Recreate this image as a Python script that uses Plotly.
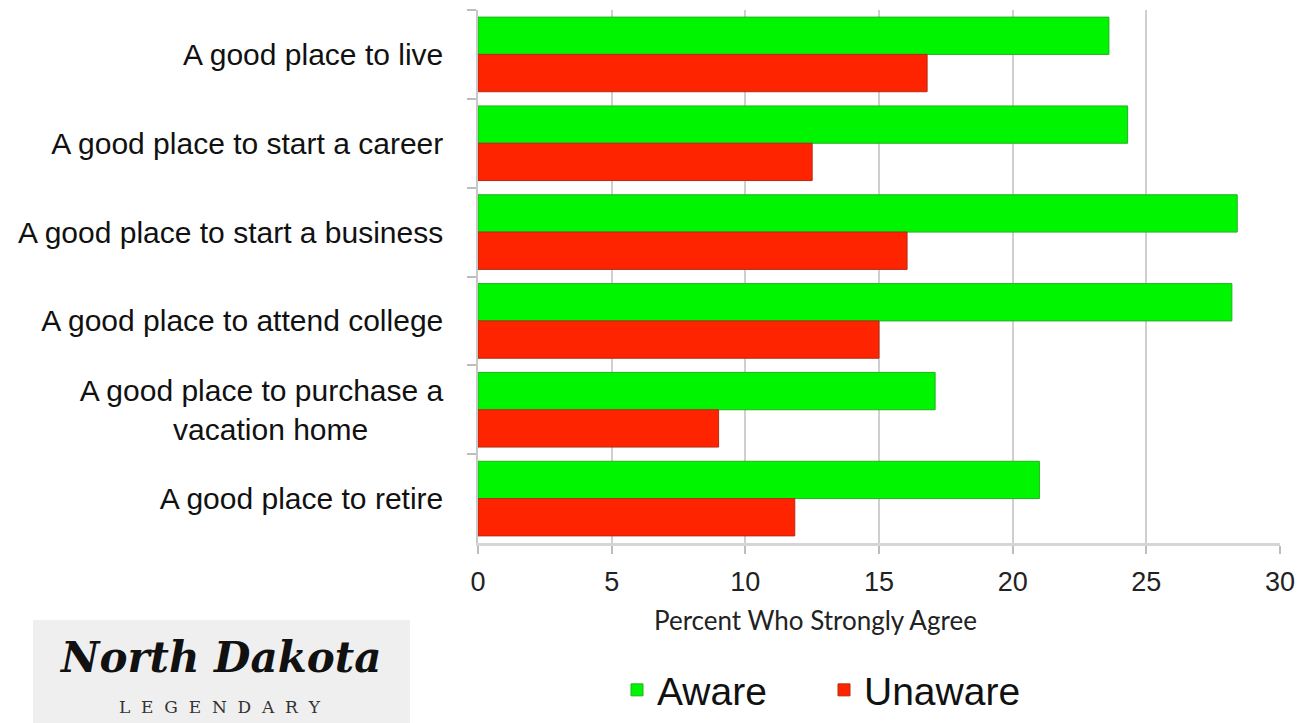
import plotly.graph_objects as go

categories = [
    "A good place to live",
    "A good place to start a career",
    "A good place to start a business",
    "A good place to attend college",
    "A good place to purchase a<br>vacation home" + "\u00a0" * 9,
    "A good place to retire",
]
aware = [23.6, 24.3, 28.4, 28.2, 17.1, 21.0]
unaware = [16.8, 12.5, 16.05, 15.0, 9.0, 11.85]
x_ticks = [0, 5, 10, 15, 20, 25, 30]
series_names = ["Aware", "Unaware"]

SANS = "Liberation Sans, Arial, sans-serif"

# page has an 8px body margin; target plot area in screen pixels: x 478..1280, y 10..543
OFF = 8
L, R, T, B = 478, 1280, 10, 543


def px_x(p):
    return (p - L) / (R - L)


def px_y(p):
    return (B - p) / (B - T)


fig = go.Figure()
fig.add_trace(go.Bar(
    y=categories, x=aware, name=series_names[0], orientation="h",
    marker=dict(color="#00f500", line=dict(color="#1fb21f", width=1)),
))
fig.add_trace(go.Bar(
    y=categories, x=unaware, name=series_names[1], orientation="h",
    marker=dict(color="#ff2400", line=dict(color="#b52a14", width=1)),
))

fig.update_layout(
    width=1306, height=723,
    margin=dict(l=L - OFF, r=1306 - (R - OFF), t=T - OFF, b=723 - (B - OFF)),
    paper_bgcolor="white", plot_bgcolor="white",
    barmode="group", bargap=0.16, bargroupgap=0.0,
    showlegend=True,
    legend=dict(
        orientation="h", x=px_x(617), y=px_y(690), xanchor="left", yanchor="middle",
        font=dict(family=SANS, size=39, color="#111"),
        traceorder="normal", tracegroupgap=0,
        entrywidth=162, entrywidthmode="pixels",
    ),
    xaxis=dict(
        range=[0, 30], tickvals=x_ticks, ticktext=[str(v) for v in x_ticks],
        showgrid=True, gridcolor="#cfcfcf", gridwidth=1.5,
        zeroline=False, showline=True, linecolor="#d6d6d6", linewidth=3,
        ticks="outside", ticklen=8, tickcolor="#bdbdbd", tickwidth=1.5,
        tickfont=dict(family=SANS, size=27, color="#222"),
        ticklabelstandoff=5, automargin=False,
    ),
    yaxis=dict(
        categoryorder="array", categoryarray=categories, autorange="reversed",
        tickson="boundaries", ticks="outside", ticklen=9, tickcolor="#bdbdbd",
        tickwidth=1.5, showgrid=False, showline=True, linecolor="#c8c8c8",
        linewidth=1.5, automargin=False,
        tickfont=dict(family=SANS, size=30, color="#111"),
        ticklabelstandoff=27,
    ),
)

fig.add_annotation(
    xref="paper", yref="paper", x=px_x(815), y=px_y(620),
    text="Percent Who Strongly Agree", showarrow=False,
    xanchor="center", yanchor="middle",
    font=dict(family="Lato, Open Sans, sans-serif", size=26, color="#222"),
)

# Logo block
fig.add_shape(
    type="rect", xref="paper", yref="paper",
    x0=px_x(33), x1=px_x(410), y0=px_y(731), y1=px_y(620),
    fillcolor="#efefef", line=dict(width=0), layer="below",
)
fig.add_annotation(
    xref="paper", yref="paper", x=px_x(220), y=px_y(657),
    text="<i><b>North Dakota</b></i>", showarrow=False,
    xanchor="center", yanchor="middle",
    font=dict(family="DejaVu Serif, serif", size=42, color="#111"),
)
fig.add_annotation(
    xref="paper", yref="paper", x=px_x(220), y=px_y(707),
    text="L  E  G  E  N  D  A  R  Y", showarrow=False,
    xanchor="center", yanchor="middle",
    font=dict(family="DejaVu Serif, serif", size=17, color="#333"),
)

fig.write_html("out.html")
